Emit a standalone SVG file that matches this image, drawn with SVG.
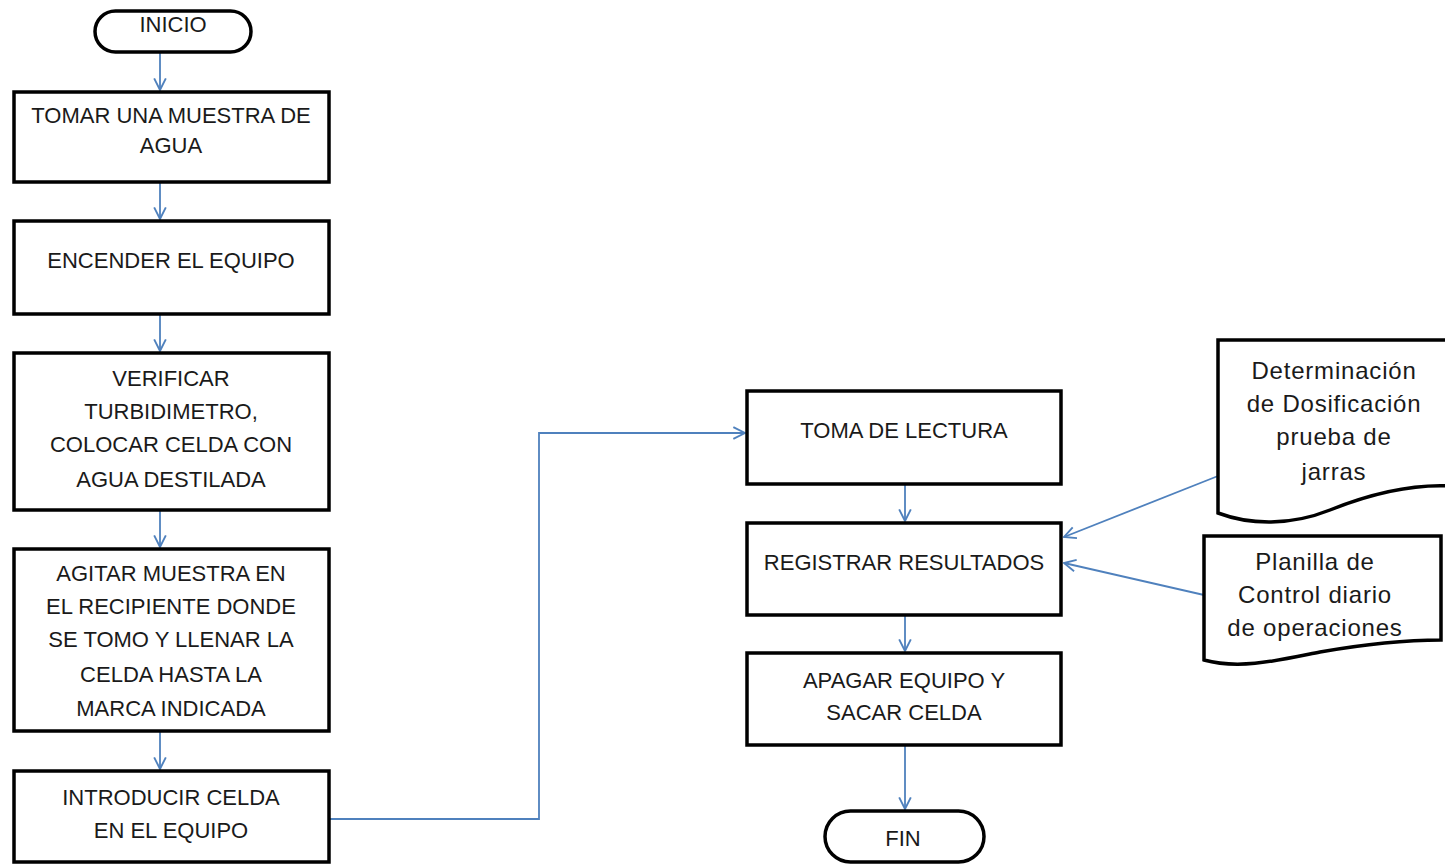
<svg xmlns="http://www.w3.org/2000/svg" width="1445" height="864" viewBox="0 0 1445 864">
<defs>
<style>
.box{fill:#fff;stroke:#000;stroke-width:3.5}
.t{font-family:"Liberation Sans",Arial,sans-serif;font-size:22px;fill:#1a1a1a;text-anchor:middle}
.d{font-size:24px;letter-spacing:0.8px}
.c{fill:none;stroke:#4f81bd;stroke-width:1.8}
</style>
<marker id="ah" viewBox="0 0 12 12" refX="11" refY="6" markerWidth="14" markerHeight="14" markerUnits="userSpaceOnUse" orient="auto">
<path d="M1,1 L11,6 L1,11" fill="none" stroke="#4f81bd" stroke-width="1.6"/>
</marker>
</defs>
<rect width="1445" height="864" fill="#fff"/>
<g id="connectors">
<path class="c" d="M160,53 V90" marker-end="url(#ah)"/>
<path class="c" d="M160,183 V219" marker-end="url(#ah)"/>
<path class="c" d="M160,315 V351" marker-end="url(#ah)"/>
<path class="c" d="M160,511 V547" marker-end="url(#ah)"/>
<path class="c" d="M160,732 V769" marker-end="url(#ah)"/>
<path class="c" d="M330,819 H539 V433 H745" marker-end="url(#ah)"/>
<path class="c" d="M905,485 V521" marker-end="url(#ah)"/>
<path class="c" d="M905,616 V651" marker-end="url(#ah)"/>
<path class="c" d="M905,746 V809" marker-end="url(#ah)"/>
<path class="c" d="M1218,476 L1064,537" marker-end="url(#ah)"/>
<path class="c" d="M1204,595 L1064,563" marker-end="url(#ah)"/>
</g>
<g id="inicio">
<rect class="box" x="95" y="11" width="156" height="41" rx="20.5"/>
<text class="t" x="173" y="32">INICIO</text>
</g>
<g id="tomar">
<rect class="box" x="14" y="92" width="315" height="90"/>
<text class="t" x="171" y="123">TOMAR UNA MUESTRA DE</text>
<text class="t" x="171" y="153">AGUA</text>
</g>
<g id="encender">
<rect class="box" x="14" y="221" width="315" height="93"/>
<text class="t" x="171" y="268">ENCENDER EL EQUIPO</text>
</g>
<g id="verificar">
<rect class="box" x="14" y="353" width="315" height="157"/>
<text class="t" x="171" y="386">VERIFICAR</text>
<text class="t" x="171" y="419">TURBIDIMETRO,</text>
<text class="t" x="171" y="452">COLOCAR CELDA CON</text>
<text class="t" x="171" y="487">AGUA DESTILADA</text>
</g>
<g id="agitar">
<rect class="box" x="14" y="549" width="315" height="182"/>
<text class="t" x="171" y="581">AGITAR MUESTRA EN</text>
<text class="t" x="171" y="614">EL RECIPIENTE DONDE</text>
<text class="t" x="171" y="647">SE TOMO Y LLENAR LA</text>
<text class="t" x="171" y="682">CELDA HASTA LA</text>
<text class="t" x="171" y="716">MARCA INDICADA</text>
</g>
<g id="introducir">
<rect class="box" x="14" y="771" width="315" height="91"/>
<text class="t" x="171" y="805">INTRODUCIR CELDA</text>
<text class="t" x="171" y="838">EN EL EQUIPO</text>
</g>
<g id="toma">
<rect class="box" x="747" y="391" width="314" height="93"/>
<text class="t" x="904" y="438">TOMA DE LECTURA</text>
</g>
<g id="registrar">
<rect class="box" x="747" y="523" width="314" height="92"/>
<text class="t" x="904" y="570">REGISTRAR RESULTADOS</text>
</g>
<g id="apagar">
<rect class="box" x="747" y="653" width="314" height="92"/>
<text class="t" x="904" y="688">APAGAR EQUIPO Y</text>
<text class="t" x="904" y="720">SACAR CELDA</text>
</g>
<g id="fin">
<rect class="box" x="825" y="811" width="159" height="51" rx="25.5"/>
<text class="t" x="903" y="846">FIN</text>
</g>
<g id="doc1">
<path class="box" d="M1450,340 H1218 V513 C1250,525 1290,526 1330,510 C1370,494 1410,484 1450,486"/>
<text class="t d" x="1334" y="379">Determinación</text>
<text class="t d" x="1334" y="412">de Dosificación</text>
<text class="t d" x="1334" y="445">prueba de</text>
<text class="t d" x="1334" y="480">jarras</text>
</g>
<g id="doc2">
<path class="box" d="M1204,536 H1441 V640 C1400,640 1360,645 1320,652 C1280,660 1240,670 1204,660 Z"/>
<text class="t d" x="1315" y="570">Planilla de</text>
<text class="t d" x="1315" y="603">Control diario</text>
<text class="t d" x="1315" y="636">de operaciones</text>
</g>
</svg>
